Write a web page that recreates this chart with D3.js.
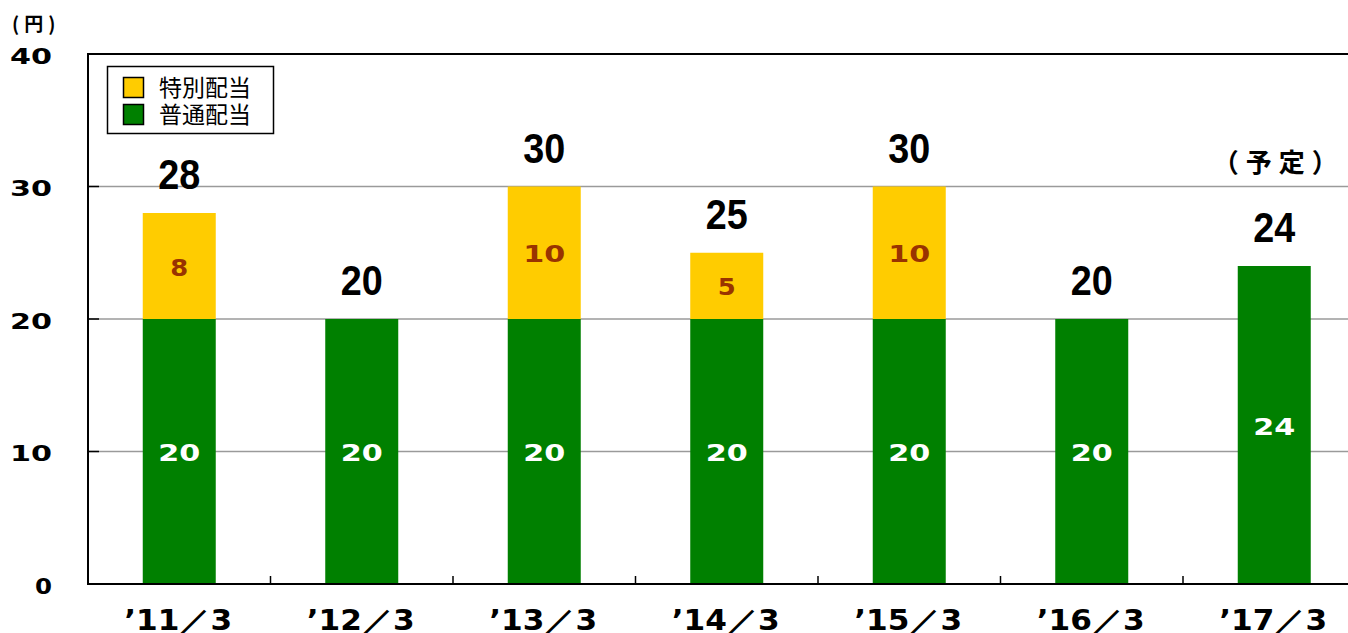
<!DOCTYPE html>
<html><head><meta charset="utf-8">
<script src="https://cdn.jsdelivr.net/npm/d3@7"></script>
<style>
html,body{margin:0;padding:0;background:#fff;}
svg{display:block;}
</style></head>
<body>
<svg id="c" width="1348" height="633"></svg>
<script>
const categories = ["’11／3","’12／3","’13／3","’14／3","’15／3","’16／3","’17／3"];
const regular = [20,20,20,20,20,20,24];
const special = [8,0,10,5,10,0,0];
const yTicks = [0,10,20,30,40];
const seriesNames = ["特別配当","普通配当"];
const unitLabel = "(円)";
const planNote = "（予定）";

(function(){
const svg = d3.select("#c");
const pLeft = 88, pTop = 54, pBottom = 584, pRight = 1365.5;
const x = d3.scaleBand().domain(categories).range([pLeft, pRight]).padding(0);
const y = d3.scaleLinear().domain([0,40]).range([pBottom, pTop]);
const barW = x.bandwidth()*0.4;
const cx = d => x(d) + x.bandwidth()/2;

const GREEN = "#008000", YELLOW = "#FFCC00", BROWN = "#993300";
const wideFont = "'DejaVu Sans', sans-serif";
const cjk = "'Noto Sans CJK JP',sans-serif";

svg.append("g").selectAll("line").data(yTicks.filter(t=>t>0 && t<40)).join("line")
  .attr("x1", pLeft).attr("x2", pRight).attr("y1", d=>y(d)).attr("y2", d=>y(d))
  .attr("stroke", "#9a9a9a").attr("stroke-width", 1.5);

const data = categories.map((c,i)=>({c, r: regular[i], s: special[i], t: regular[i]+special[i]}));
const g = svg.append("g");
g.selectAll("rect.reg").data(data).join("rect").attr("class","reg")
  .attr("x", d=>cx(d.c)-barW/2).attr("width", barW)
  .attr("y", d=>y(d.r)).attr("height", d=>y(0)-y(d.r)).attr("fill", GREEN);
g.selectAll("rect.sp").data(data.filter(d=>d.s>0)).join("rect").attr("class","sp")
  .attr("x", d=>cx(d.c)-barW/2).attr("width", barW)
  .attr("y", d=>y(d.r+d.s)).attr("height", d=>y(d.r)-y(d.r+d.s)).attr("fill", YELLOW);

function innerStyle(s, key){
  s.attr("text-anchor","middle").attr("dy","0.37em")
    .attr("font-family", wideFont).attr("font-weight","bold").attr("font-size",23)
    .attr("lengthAdjust","spacingAndGlyphs")
    .attr("textLength", d=>String(d[key]).length===1 ? 18 : 42);
}
g.selectAll("text.rl").data(data).join("text").attr("class","rl")
  .attr("x", d=>cx(d.c)).attr("y", d=>(y(d.r)+y(0))/2+1)
  .attr("fill","#fff").text(d=>d.r).call(innerStyle, "r");
g.selectAll("text.sl").data(data.filter(d=>d.s>0)).join("text").attr("class","sl")
  .attr("x", d=>cx(d.c)).attr("y", d=>(y(d.r)+y(d.r+d.s))/2+1)
  .attr("fill",BROWN).text(d=>d.s).call(innerStyle, "s");

g.selectAll("text.tot").data(data).join("text").attr("class","tot")
  .attr("x", d=>cx(d.c)).attr("y", d=>y(d.t)-24)
  .attr("text-anchor","middle")
  .attr("font-family","'Liberation Sans',Arial,sans-serif")
  .attr("font-weight","bold").attr("font-size",43)
  .attr("lengthAdjust","spacingAndGlyphs").attr("textLength",42)
  .attr("fill","#000").text(d=>d.t);

svg.append("text").attr("x", cx(categories[6])+4.5).attr("y", 172)
  .attr("text-anchor","middle").attr("font-family",cjk)
  .attr("font-weight","bold").attr("font-size",26).attr("letter-spacing",7).text(planNote);

svg.append("line").attr("x1",pLeft).attr("x2",pLeft).attr("y1",pTop).attr("y2",pBottom).attr("stroke","#000").attr("stroke-width",2);
svg.append("line").attr("x1",pLeft-1).attr("x2",pRight).attr("y1",pBottom).attr("y2",pBottom).attr("stroke","#000").attr("stroke-width",2);
svg.append("line").attr("x1",pLeft-1).attr("x2",pRight).attr("y1",pTop).attr("y2",pTop).attr("stroke","#000").attr("stroke-width",2);

svg.append("g").selectAll("line").data(yTicks.filter(t=>t>0&&t<40)).join("line")
  .attr("x1",pLeft).attr("x2",pLeft+11).attr("y1",d=>y(d)).attr("y2",d=>y(d))
  .attr("stroke","#000").attr("stroke-width",1.5);
svg.append("g").selectAll("line").data(categories.slice(1)).join("line")
  .attr("x1",d=>x(d)).attr("x2",d=>x(d)).attr("y1",pBottom).attr("y2",pBottom-8)
  .attr("stroke","#000").attr("stroke-width",1.5);

svg.append("g").selectAll("text").data(yTicks).join("text")
  .attr("x", 52).attr("y", d=>y(d)+2).attr("dy","0.37em").attr("text-anchor","end")
  .attr("font-family", wideFont).attr("font-weight","bold").attr("font-size",20.5)
  .attr("lengthAdjust","spacingAndGlyphs")
  .attr("textLength", d=>String(d).length===1 ? 17 : 42)
  .text(d=>d);

svg.append("g").selectAll("text").data(categories).join("text")
  .attr("x", d=>cx(d)-1).attr("y", 630).attr("text-anchor","middle")
  .attr("font-family", wideFont).attr("font-weight","bold").attr("font-size",28)
  .attr("lengthAdjust","spacingAndGlyphs").attr("textLength",108)
  .text(d=>d);

svg.append("text").attr("x",12).attr("y",31).attr("font-family",cjk)
  .attr("font-weight","bold").attr("font-size",19).attr("letter-spacing",5).text(unitLabel);

const lg = svg.append("g");
lg.append("rect").attr("x",107.5).attr("y",66.5).attr("width",166).attr("height",67)
  .attr("fill","#fff").attr("stroke","#000").attr("stroke-width",1.5);
const lcol = [YELLOW, GREEN];
seriesNames.forEach((n,i)=>{
  lg.append("rect").attr("x",123.5).attr("y",77.5+i*27).attr("width",20).attr("height",20)
    .attr("fill",lcol[i]).attr("stroke","#000").attr("stroke-width",1.5);
  lg.append("text").attr("x",159).attr("y",87.5+i*27).attr("dy","0.36em")
    .attr("font-family",cjk).attr("font-size",23).text(n);
});
})();
</script>
</body></html>
